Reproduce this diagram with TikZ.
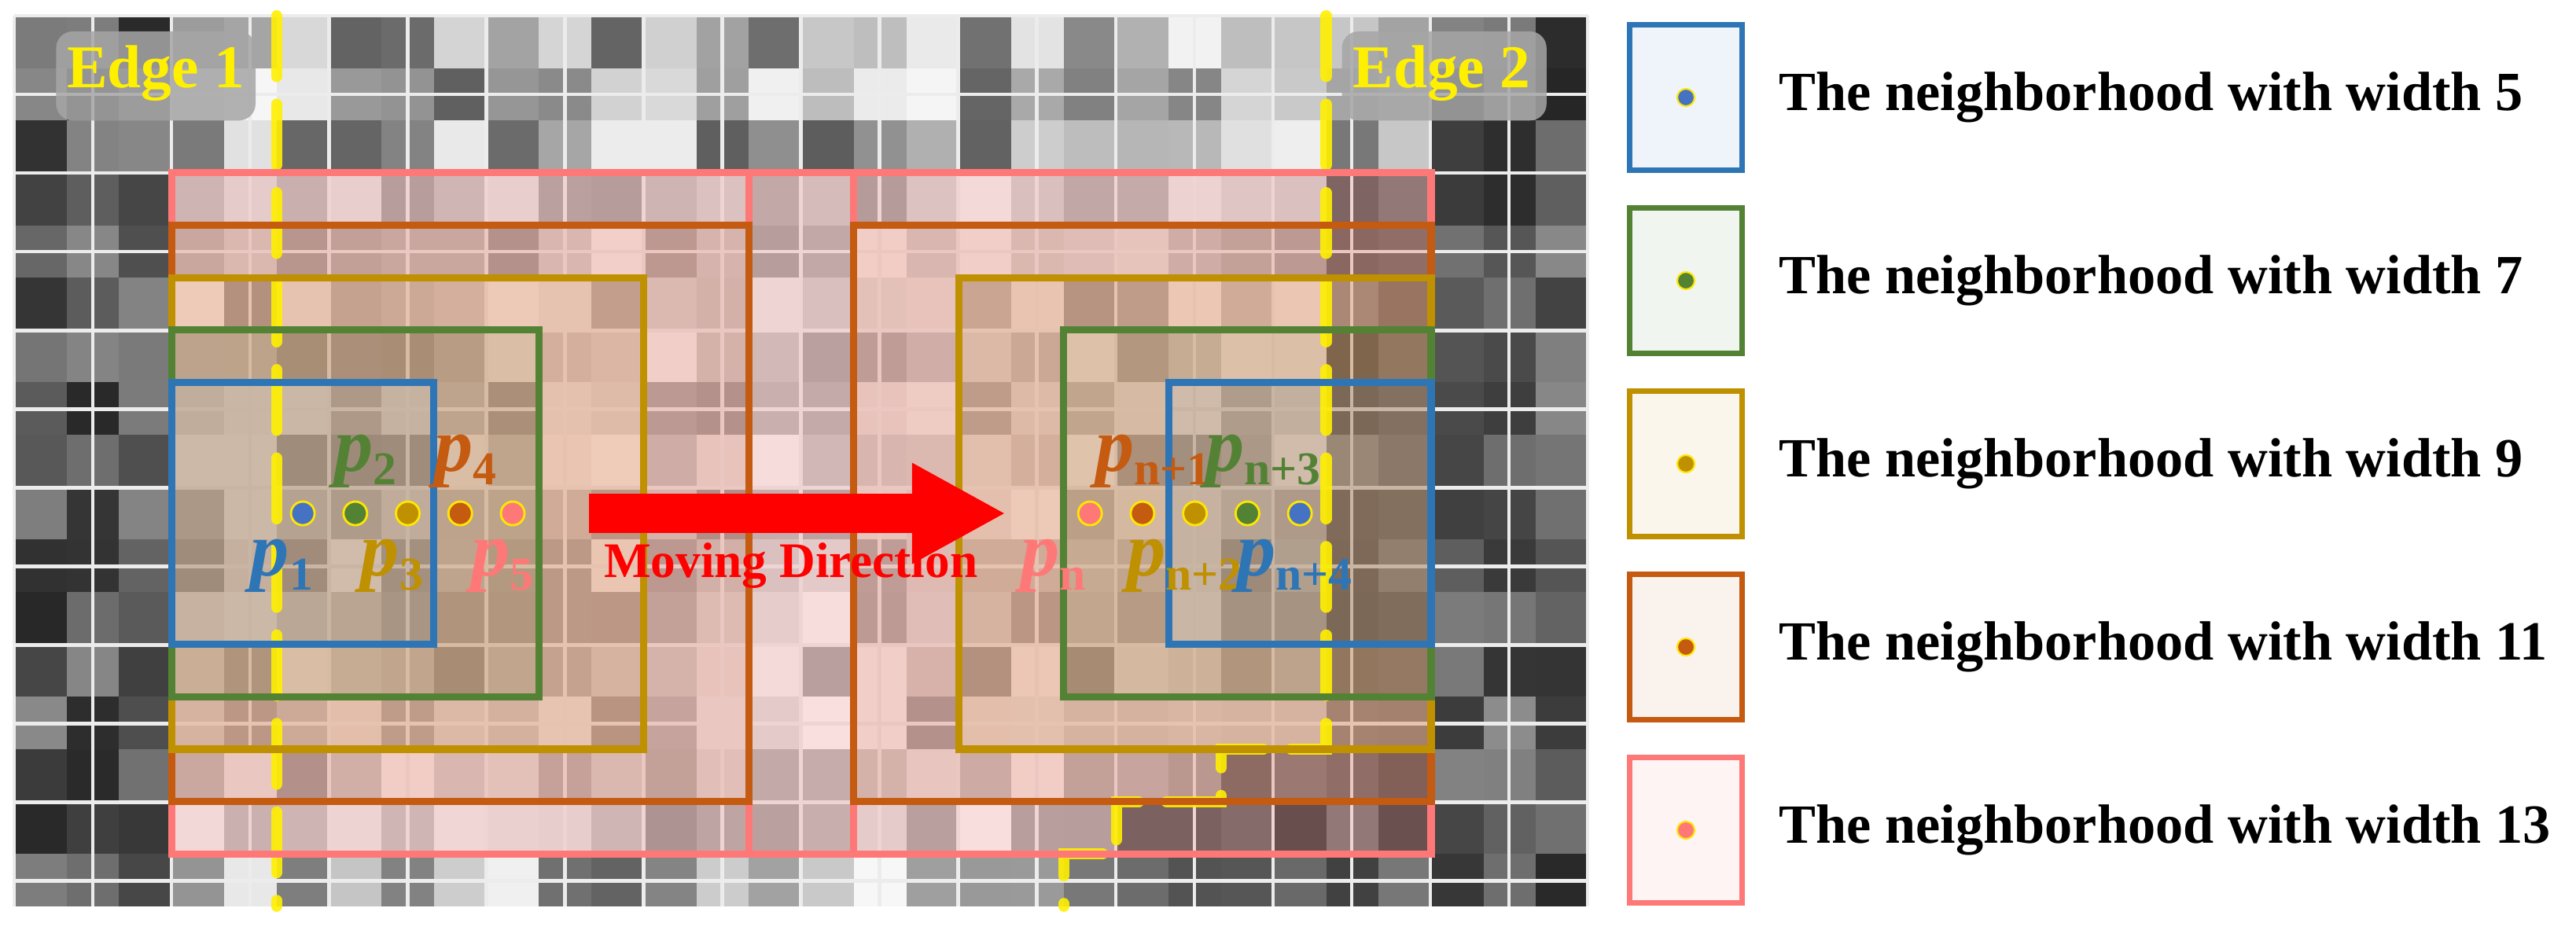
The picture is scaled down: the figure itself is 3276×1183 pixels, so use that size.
\documentclass[tikz,border=0pt]{standalone}
\usepackage{fontspec}
\setmainfont{Liberation Serif}
\usetikzlibrary{arrows.meta}
\newcommand\plabel[1]{{\fontsize{28}{28}\selectfont\itshape p}{\fontsize{17}{17}\selectfont\raisebox{-5pt}{#1}}}
\begin{document}
\begin{tikzpicture}[x=0.01cm,y=-0.01cm]
\definecolor{cblue}{RGB}{46,117,182}
\definecolor{cgreen}{RGB}{84,130,53}
\definecolor{cgold}{RGB}{191,144,0}
\definecolor{corange}{RGB}{197,90,17}
\definecolor{cpink}{RGB}{255,120,120}
\definecolor{dblue}{RGB}{70,114,196}
\definecolor{edgey}{RGB}{255,240,0}
\tikzset{
  win/.style={draw=#1,line width=2.6pt},
  dotm/.style={circle,fill=#1,draw=yellow!90!orange,line width=0.8pt,inner sep=0pt,minimum size=0.3cm},
  ldot/.style={circle,fill=#1,draw=yellow!90!orange,line width=0.6pt,inner sep=0pt,minimum size=0.22cm},
  plab/.style={text=#1,font=\bfseries,inner sep=0pt},
  legbox/.style={draw=#1,fill=#1!8,line width=2.2pt,minimum width=1.43cm,minimum height=1.85cm,inner sep=0pt},
  legtxt/.style={font=\fontsize{20}{24}\selectfont\bfseries,anchor=west,inner sep=0pt},
  edgelab/.style={text=edgey,font=\fontsize{22}{24}\selectfont\bfseries,inner sep=0pt}
}
\useasboundingbox (0,0) rectangle (3276,1183);
\pgfmathsetseed{17}
\begin{scope}[shift={(18,20)},x=0.667cm,y=-0.666cm]
  \foreach \c in {0,...,29}{
    \foreach \r in {0,...,16}{
      \pgfmathsetmacro\g{ (\c<3 || \c>26) ? 15+40*rnd : ( (\r<3 || \r>15) ? 35+62*rnd : 60+38*rnd ) }
      \fill[white!\g!black] (\c,\r) rectangle ++(1,1);
    }
  }
  \foreach \c/\r in {23/14,24/14,25/14,26/14,21/15,22/15,23/15,24/15,25/15,26/15,20/16,21/16,22/16,23/16,24/16,25/16,26/16}{
    \pgfmathsetmacro\g{15+35*rnd}
    \fill[white!\g!black] (\c,\r) rectangle ++(1,1);
  }
  \foreach \c in {25,26}{\foreach \r in {3,...,13}{
    \pgfmathsetmacro\g{35+25*rnd}
    \fill[white!\g!black] (\c,\r) rectangle ++(1,1);}}
  \draw[white!85!gray,line width=1.3pt] (0,0) grid (30,17);
  \fill[cpink,opacity=0.2] (3,3) rectangle (27,16);
  \fill[corange,opacity=0.1] (3,4) rectangle (14,15);
  \fill[corange,opacity=0.1] (16,4) rectangle (27,15);
  \fill[cgold,opacity=0.08] (3,5) rectangle (12,14);
  \fill[cgold,opacity=0.08] (18,5) rectangle (27,14);
  \fill[cgreen,opacity=0.1] (3,6) rectangle (10,13);
  \fill[cgreen,opacity=0.1] (20,6) rectangle (27,13);
  \fill[cblue,opacity=0.08] (3,7) rectangle (8,12);
  \fill[cblue,opacity=0.08] (22,7) rectangle (27,12);
  \draw[edgey,line width=4pt,dash pattern=on 22pt off 10pt,line cap=round,opacity=0.9] (5,0) -- (5,17);
  \draw[edgey,line width=4pt,dash pattern=on 22pt off 10pt,line cap=round,opacity=0.9] (25,0) -- (25,14) -- (23,14) -- (23,15) -- (21,15) -- (21,16) -- (20,16) -- (20,17);
  \draw[win=cpink] (3,3) rectangle (16,16);
  \draw[win=cpink] (14,3) rectangle (27,16);
  \draw[win=corange] (3,4) rectangle (14,15);
  \draw[win=corange] (16,4) rectangle (27,15);
  \draw[win=cgold] (3,5) rectangle (12,14);
  \draw[win=cgold] (18,5) rectangle (27,14);
  \draw[win=cgreen] (3,6) rectangle (10,13);
  \draw[win=cgreen] (20,6) rectangle (27,13);
  \draw[win=cblue] (3,7) rectangle (8,12);
  \draw[win=cblue] (22,7) rectangle (27,12);
  \fill[gray!70,opacity=0.85,rounded corners=6pt] (0.8,0.3) rectangle (4.6,2.0);
  \fill[gray!70,opacity=0.85,rounded corners=6pt] (25.3,0.3) rectangle (29.2,2.0);
  \node[edgelab] (e1) at (2.7,1.1) {Edge 1};
  \node[edgelab] (e2) at (27.2,1.1) {Edge 2};
  \node[dotm=dblue] (d1) at (5.5,9.5) {};
  \node[dotm=cgreen] (d2) at (6.5,9.5) {};
  \node[dotm=cgold] (d3) at (7.5,9.5) {};
  \node[dotm=corange] (d4) at (8.5,9.5) {};
  \node[dotm=cpink] (d5) at (9.5,9.5) {};
  \node[dotm=cpink] (dn) at (20.5,9.5) {};
  \node[dotm=corange] (dn1) at (21.5,9.5) {};
  \node[dotm=cgold] (dn2) at (22.5,9.5) {};
  \node[dotm=cgreen] (dn3) at (23.5,9.5) {};
  \node[dotm=dblue] (dn4) at (24.5,9.5) {};
  \coordinate (as) at (10.95,9.5);
  \coordinate (ae) at (18.9,9.5);
  \draw[red,line width=14pt,-{Triangle[length=34pt,width=34pt]}] (as) -- (ae);
  \node[text=red,font=\fontsize{18}{20}\selectfont\bfseries,inner sep=0pt] (mv) at (14.8,10.5) {Moving Direction};
  \node[plab=cblue] (l1) at (5.1,10.5) {\plabel{1}};
  \node[plab=cgreen] (l2) at (6.7,8.5) {\plabel{2}};
  \node[plab=cgold] (l3) at (7.2,10.5) {\plabel{3}};
  \node[plab=corange] (l4) at (8.6,8.5) {\plabel{4}};
  \node[plab=cpink] (l5) at (9.3,10.5) {\plabel{5}};
  \node[plab=cpink] (ln) at (19.8,10.5) {\plabel{n}};
  \node[plab=corange] (ln1) at (21.7,8.5) {\plabel{n+1}};
  \node[plab=cgreen] (ln3) at (23.8,8.5) {\plabel{n+3}};
  \node[plab=cgold] (ln2) at (22.3,10.5) {\plabel{n+2}};
  \node[plab=cblue] (ln4) at (24.4,10.5) {\plabel{n+4}};
\end{scope}
\node[legbox=cblue] (b1) at (2144,124) {};
\node[legbox=cgreen] (b2) at (2144,357) {};
\node[legbox=cgold] (b3) at (2144,590) {};
\node[legbox=corange] (b4) at (2144,823) {};
\node[legbox=cpink] (b5) at (2144,1056) {};
\node[ldot=dblue] (c1) at (b1) {};
\node[ldot=cgreen] (c2) at (b2) {};
\node[ldot=cgold] (c3) at (b3) {};
\node[ldot=corange] (c4) at (b4) {};
\node[ldot=cpink] (c5) at (b5) {};
\node[legtxt] (t1) at (2262,124) {The neighborhood with width 5};
\node[legtxt] (t2) at (2262,357) {The neighborhood with width 7};
\node[legtxt] (t3) at (2262,590) {The neighborhood with width 9};
\node[legtxt] (t4) at (2262,823) {The neighborhood with width 11};
\node[legtxt] (t5) at (2262,1056) {The neighborhood with width 13};
\end{tikzpicture}
\end{document}
